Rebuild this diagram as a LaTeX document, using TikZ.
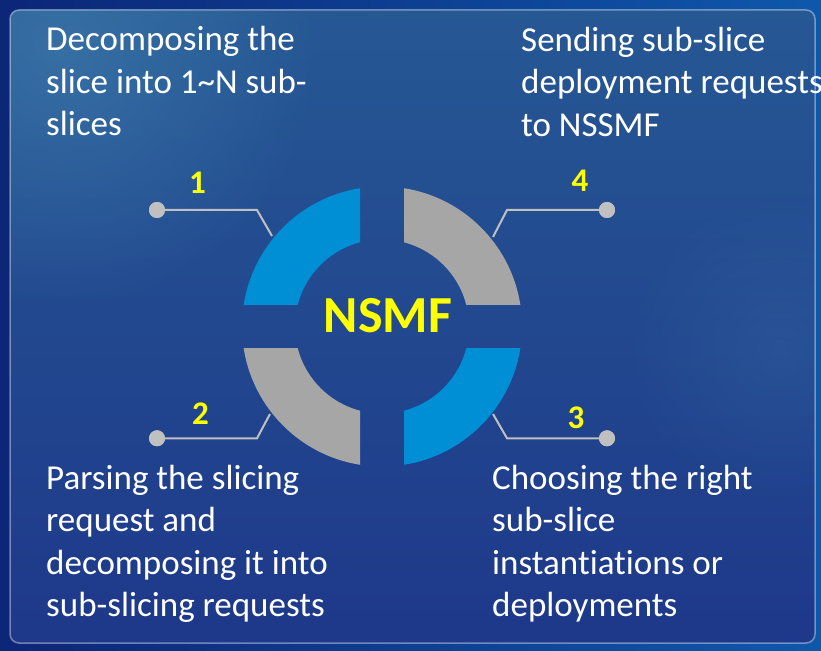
\documentclass[tikz,border=0pt]{standalone}
\usepackage{fontspec}
\setmainfont{Carlito}[Ligatures=NoCommon]
\usetikzlibrary{fadings}
\tikzfading[name=glow, inner color=transparent!0, outer color=transparent!100]
\definecolor{ringblue}{RGB}{0,142,213}
\definecolor{ringgray}{RGB}{166,166,166}
\definecolor{lblyellow}{RGB}{255,255,0}
\definecolor{conngray}{RGB}{192,192,192}
\definecolor{bgdark}{RGB}{12,38,120}
\definecolor{bgbright}{RGB}{14,88,172}
\definecolor{paneltop}{RGB}{38,88,148}
\definecolor{panelbot}{RGB}{30,56,138}
\definecolor{glowcol}{RGB}{80,150,190}
\begin{document}
\begin{tikzpicture}[x=1pt,y=1pt,
  desc/.style={text=white, align=left, anchor=base west, inner sep=0pt,
    font=\fontsize{35}{42.5}\selectfont},
  num/.style={text=lblyellow, inner sep=0pt, font=\fontsize{33}{40}\selectfont\bfseries},
  dot/.style={circle, fill=conngray, minimum size=16pt, inner sep=0pt},
  conn/.style={draw=conngray, line width=2pt},
  seg/.style={even odd rule}]
\useasboundingbox (0,0) rectangle (821,650);
% background
\shade[left color=bgdark, right color=bgbright] (0,0) rectangle (821,650);
\shade[top color=paneltop, bottom color=panelbot, rounded corners=9pt] (10,7) rectangle (815,640);
\begin{scope}
  \clip[rounded corners=9pt] (10,7) rectangle (815,640);
  \fill[glowcol, opacity=0.4, path fading=glow] (60,600) circle (260pt);
  \fill[glowcol, opacity=0.15, path fading=glow] (780,300) circle (160pt);
\end{scope}
\draw[white, opacity=0.4, line width=1.5pt, rounded corners=9pt] (10,7) rectangle (815,640);
% ring
\def\cx{382}\def\cy{323.5}
\begin{scope}
  \clip (\cx-150,\cy+22) rectangle (\cx-22,\cy+150);
  \fill[ringblue, seg] (\cx,\cy) circle (140pt) (\cx,\cy) circle (87pt);
\end{scope}
\begin{scope}
  \clip (\cx+22,\cy+22) rectangle (\cx+150,\cy+150);
  \fill[ringgray, seg] (\cx,\cy) circle (140pt) (\cx,\cy) circle (87pt);
\end{scope}
\begin{scope}
  \clip (\cx-150,\cy-22) rectangle (\cx-22,\cy-150);
  \fill[ringgray, seg] (\cx,\cy) circle (140pt) (\cx,\cy) circle (87pt);
\end{scope}
\begin{scope}
  \clip (\cx+22,\cy-22) rectangle (\cx+150,\cy-150);
  \fill[ringblue, seg] (\cx,\cy) circle (140pt) (\cx,\cy) circle (87pt);
\end{scope}
\node[text=lblyellow, inner sep=0pt, anchor=base, font=\fontsize{52}{60}\selectfont\bfseries] (nsmf) at (388,317.3) {NSMF};
% connectors
\node[dot] (d1) at (157,440) {};
\coordinate (b1) at (257,440);
\coordinate (e1) at (272,414);
\draw[conn] (d1.center) -- (b1) -- (e1);
\node[dot] (d2) at (157,211.7) {};
\coordinate (b2) at (257,211.7);
\coordinate (e2) at (270,236);
\draw[conn] (d2.center) -- (b2) -- (e2);
\node[dot] (d4) at (607,440) {};
\coordinate (b4) at (507,440);
\coordinate (e4) at (493,413);
\draw[conn] (d4.center) -- (b4) -- (e4);
\node[dot] (d3) at (607,211.7) {};
\coordinate (b3) at (507,211.7);
\coordinate (e3) at (493,236);
\draw[conn] (d3.center) -- (b3) -- (e3);
\node[dot] at (d1) {};
\node[dot] at (d2) {};
\node[dot] at (d3) {};
\node[dot] at (d4) {};
% numbers
\node[num] (n1) at (197.5,467.5) {1};
\node[num] (n2) at (200.5,236) {2};
\node[num] (n4) at (580,469) {4};
\node[num] (n3) at (576,232.5) {3};
% descriptions
\node[desc] (t1) at (46,514) {Decomposing the\\slice into 1\textasciitilde N sub-\\slices};
\node[desc] (t4) at (521,513.5) {Sending sub-slice\\deployment requests\\to NSSMF};
\node[desc] (t2) at (46,33.3) {Parsing the slicing\\request and\\decomposing it into\\sub-slicing requests};
\node[desc] (t3) at (492,33.3) {Choosing the right\\sub-slice\\instantiations or\\deployments};
\end{tikzpicture}
\end{document}
